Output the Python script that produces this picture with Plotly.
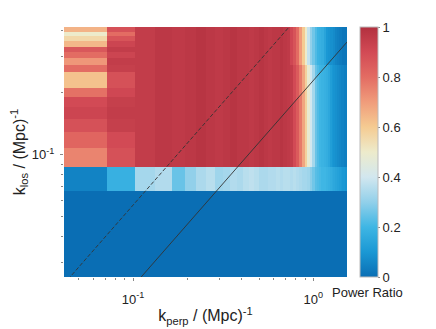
import math
import plotly.graph_objects as go

# Bin edges (k_perp and k_los, in (Mpc)^-1)
kperp_edges = [0.0414, 0.0719, 0.1024, 0.1329, 0.1634, 0.1939, 0.2244, 0.2549, 0.2854, 0.3159,
               0.3464, 0.3769, 0.4074, 0.4379, 0.4684, 0.4989, 0.5294, 0.5599, 0.5904, 0.6209,
               0.6514, 0.6819, 0.7124, 0.7429, 0.7734, 0.8039, 0.8344, 0.8649, 0.8954, 0.9259,
               0.9564, 0.9869, 1.0174, 1.0479, 1.0784, 1.1089, 1.1394, 1.1699, 1.2004, 1.2309,
               1.2614, 1.2919, 1.3224, 1.3529, 1.3834, 1.4139, 1.4444, 1.4749, 1.5054, 1.5359]
klos_edges = [0.0255, 0.0462, 0.0668, 0.0875, 0.1081, 0.1288, 0.1495, 0.1701, 0.1908, 0.2115,
              0.2321, 0.2528, 0.2734, 0.2941, 0.3148, 0.3354, 0.3561, 0.3767, 0.3974, 0.4180]

# Power ratio values
row0 = [0.0, 0.0, 0.0, 0.0, 0.0, 0.0, 0.0, 0.0, 0.0, 0.0, 0.0, 0.0, 0.0, 0.0, 0.0, 0.0, 0.0,
        0.0, 0.0, 0.0, 0.0, 0.0, 0.0, 0.0, 0.0, 0.0, 0.0, 0.0, 0.0, 0.0, 0.0, 0.0, 0.0, 0.0,
        0.0, 0.0, 0.0, 0.0, 0.0, 0.0, 0.0, 0.0, 0.0, 0.0, 0.0, 0.0, 0.0, 0.0, 0.0]
row1 = list(row0)
row2 = [0.05, 0.18, 0.33, 0.35, 0.25, 0.30, 0.34, 0.36, 0.32, 0.33, 0.35, 0.34, 0.36, 0.37,
        0.36, 0.34, 0.34, 0.35, 0.35, 0.36, 0.35, 0.36, 0.36, 0.35, 0.36, 0.35, 0.34, 0.33,
        0.33, 0.32, 0.29, 0.26, 0.23, 0.22, 0.21, 0.20, 0.20, 0.19, 0.18, 0.17, 0.16, 0.15,
        0.14, 0.13, 0.12, 0.11, 0.10, 0.10, 0.09]

# rows 3..18: first two k_perp columns
col0 = [0.75, 0.82, 0.88, 0.92, 0.90, 0.79, 0.62, 0.62, 0.80, 0.71, 0.80, 0.86, 0.64, 0.56, 0.50, 0.65]
col1 = [0.88, 0.90, 0.94, 0.95, 0.94, 0.91, 0.88, 0.88, 0.94, 0.95, 0.92, 0.95, 0.92, 0.87, 0.80, 0.88]
plateau = [0.95, 0.97, 0.96, 0.97, 0.98, 0.97, 0.96, 0.97, 0.98, 0.97, 0.97, 0.96, 0.97, 0.98,
           0.97, 0.96, 0.97, 0.97, 0.98, 0.97, 0.96]
edge_low = [0.95, 0.90, 0.85, 0.77, 0.68, 0.58, 0.48, 0.40, 0.33, 0.25, 0.22, 0.20, 0.19,
            0.18, 0.17, 0.15, 0.12, 0.10, 0.09, 0.08, 0.07, 0.06, 0.05, 0.05, 0.04, 0.04]
edge_top = [0.91, 0.87, 0.80, 0.70, 0.60, 0.50, 0.38, 0.30, 0.26, 0.22, 0.19, 0.18, 0.17,
            0.14, 0.10, 0.09, 0.08, 0.08, 0.07, 0.05, 0.04, 0.03, 0.03, 0.02, 0.02, 0.02]

z = [row0, row1, row2]
for i in range(16):
    edge = edge_low if i < 9 else edge_top
    z.append([col0[i], col1[i]] + plateau + edge)

# Reference lines k_los = c * k_perp
dashed_coef = 0.57
solid_coef = 0.23

colorscale = [[0.0, "#0a6eb4"], [0.1, "#1a98d4"], [0.2, "#3fb6e4"], [0.3, "#92d0ea"],
              [0.4, "#d2e7ef"], [0.5, "#edebcb"], [0.6, "#f5cb92"], [0.7, "#f09c7b"],
              [0.8, "#e36c63"], [0.9, "#d24a55"], [1.0, "#b2303f"]]

FONT = "Liberation Sans, Arial, sans-serif"

fig = go.Figure()
fig.add_trace(go.Heatmap(
    x=kperp_edges, y=klos_edges, z=z, zmin=0, zmax=1, colorscale=colorscale,
    colorbar=dict(
        x=1.046, xanchor="left", xref="paper", y=0.5, yanchor="middle", len=1.0, ypad=0, xpad=0,
        thickness=18, outlinewidth=1, outlinecolor="#bbbbbb",
        tickmode="array", tickvals=[0, 0.2, 0.4, 0.6, 0.8, 1],
        ticktext=["0", "0.2", "0.4", "0.6", "0.8", "1"],
        ticks="outside", ticklen=2, tickcolor="#888888",
        tickfont=dict(size=13, color="#222222", family=FONT),
    ),
    hoverinfo="skip",
))

x_lo, x_hi = kperp_edges[0], kperp_edges[-1]
for coef, dash in [(dashed_coef, "4px,2px"), (solid_coef, "solid")]:
    fig.add_trace(go.Scatter(
        x=[x_lo, x_hi], y=[coef * x_lo, coef * x_hi], mode="lines",
        line=dict(color="#333333", width=0.9, dash=dash), showlegend=False, hoverinfo="skip",
    ))

# page body has an 8px margin, so the figure is 8px smaller than the window
fig.update_layout(
    width=428, height=321,
    margin=dict(l=56, r=89, t=19, b=52, autoexpand=False),
    paper_bgcolor="white", plot_bgcolor="white",
    font=dict(family=FONT, size=13, color="#222222"),
    showlegend=False,
    xaxis=dict(
        type="log", range=[math.log10(x_lo), math.log10(x_hi)], automargin=False,
        tickmode="array", tickvals=[0.1, 1], ticktext=["10<sup>-1</sup>", "10<sup>0</sup>"],
        ticks="outside", ticklen=3, tickcolor="#888888", showgrid=False, zeroline=False,
        ticklabelstandoff=7,
        minor=dict(tickmode="array",
                   tickvals=[0.05, 0.06, 0.07, 0.08, 0.09, 0.2, 0.3, 0.4, 0.5, 0.6, 0.7, 0.8, 0.9],
                   ticks="outside", ticklen=2, tickcolor="#888888", showgrid=False),
        title=dict(text="k<sub>perp</sub> / (Mpc)<sup>-1</sup>", standoff=4),
    ),
    yaxis=dict(
        type="log", range=[math.log10(klos_edges[0]), math.log10(klos_edges[-1])], automargin=False,
        tickmode="array", tickvals=[0.1], ticktext=["10<sup>-1</sup>"],
        ticks="outside", ticklen=3, tickcolor="#888888", showgrid=False, zeroline=False,
        ticklabelstandoff=3,
        minor=dict(tickmode="array",
                   tickvals=[0.03, 0.04, 0.05, 0.06, 0.07, 0.08, 0.09, 0.2, 0.3, 0.4],
                   ticks="outside", ticklen=2, tickcolor="#888888", showgrid=False),
        title=dict(text="k<sub>los</sub> / (Mpc)<sup>-1</sup>", standoff=8),
    ),
    annotations=[dict(
        text="Power Ratio", xref="paper", yref="paper", x=1.074, y=-0.06,
        xanchor="center", yanchor="middle", showarrow=False,
        font=dict(size=13, color="#222222", family=FONT),
    )],
)

fig.write_html("out.html")
